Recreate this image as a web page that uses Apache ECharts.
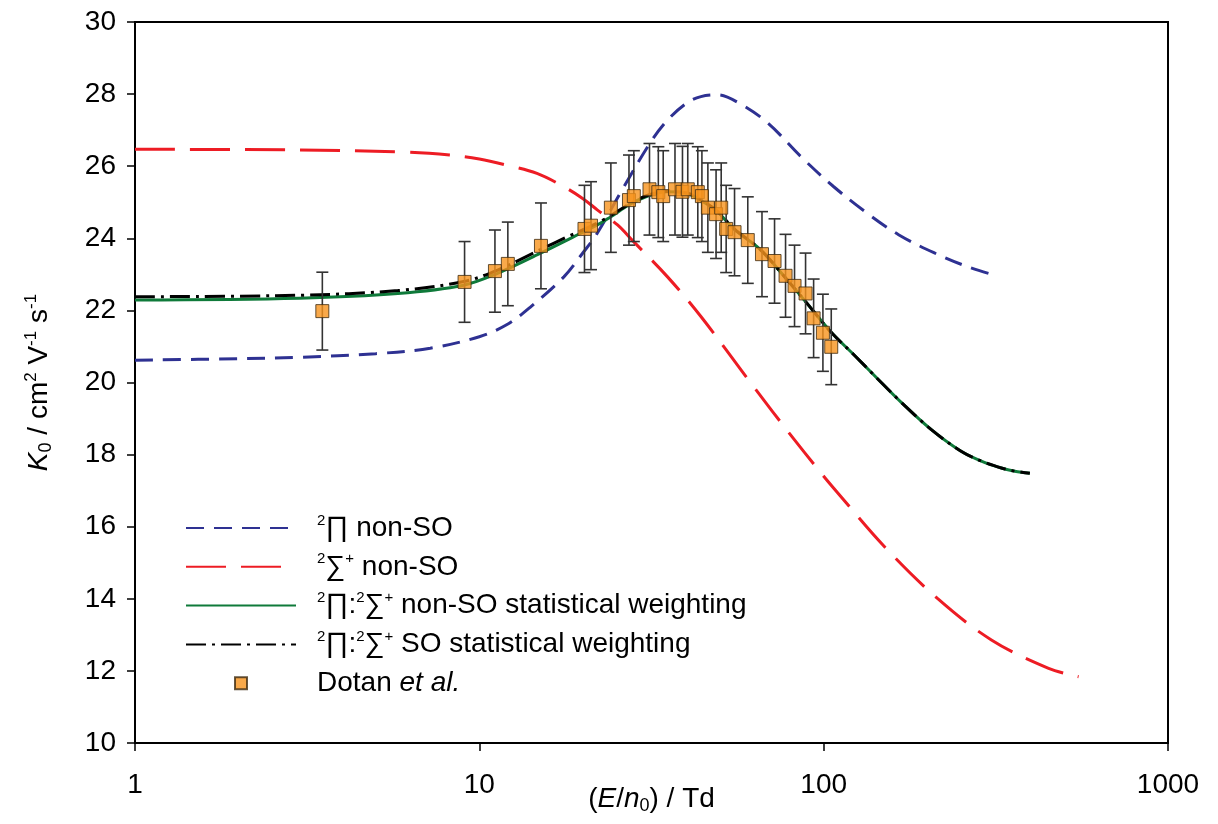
<!DOCTYPE html>
<html>
<head>
<meta charset="utf-8">
<script src="https://cdn.jsdelivr.net/npm/echarts@6/dist/echarts.min.js"></script>
<style>
html,body{margin:0;padding:0;background:#fff;}
#c{width:1218px;height:824px;}
</style>
</head>
<body>
<div id="c"></div>
<script>
// ---- Data ----
const xTicks = [1, 10, 100, 1000];
const yTicks = [10, 12, 14, 16, 18, 20, 22, 24, 26, 28, 30];

// 2Pi non-SO (blue dashed)
const piX = [1, 2, 3, 5, 7.2, 10, 12, 14.1, 17.6, 20, 22, 26, 31.5, 35.2, 40, 44, 49, 57, 69, 86, 107, 134, 165, 209, 262, 313];
const piY = [20.62, 20.66, 20.7, 20.8, 20.95, 21.27, 21.6, 22.1, 22.93, 23.6, 24.14, 25.35, 26.68, 27.28, 27.75, 27.93, 27.98, 27.74, 27.19, 26.26, 25.43, 24.69, 24.1, 23.6, 23.21, 22.98];

// 2Sigma+ non-SO (red long dash)
const sigX = [1, 3, 5.8, 8.2, 10, 12, 14.7, 17.6, 20, 22, 25.2, 28.1, 35.2, 44, 61.5, 82.4, 100, 109.6, 150, 214, 307, 450, 550];
const sigY = [26.47, 26.45, 26.4, 26.31, 26.2, 26.03, 25.8, 25.43, 25.1, 24.79, 24.37, 23.9, 22.93, 21.83, 19.98, 18.4, 17.4, 16.95, 15.45, 14.01, 12.86, 12.07, 11.84];

// 2Pi:2Sigma+ non-SO statistical weighting (green solid)
const nsoX = [1, 3, 5.8, 9, 11.3, 15, 19.7, 22.5, 24.1, 27.5, 31, 35.2, 40, 44, 49, 55, 65.6, 77.5, 87.8, 105, 123, 147, 168, 205, 250, 287, 330, 359, 397];
const nsoY = [22.29, 22.34, 22.47, 22.7, 23.03, 23.58, 24.14, 24.42, 24.6, 24.95, 25.18, 25.29, 25.25, 25.05, 24.75, 24.25, 23.68, 22.9, 22.29, 21.4, 20.75, 20.0, 19.45, 18.7, 18.1, 17.82, 17.62, 17.54, 17.48];

// 2Pi:2Sigma+ SO statistical weighting (black dash-dot)
const soX = [1, 3, 5.8, 9, 11.3, 15, 18, 22.5, 27.5, 31, 35.2, 40, 44, 49, 55, 65.6, 77.5, 87.8, 105, 123, 147, 168, 205, 250, 287, 330, 359, 397];
const soY = [22.38, 22.42, 22.55, 22.8, 23.12, 23.68, 24.04, 24.47, 24.97, 25.2, 25.3, 25.26, 25.07, 24.76, 24.26, 23.68, 22.9, 22.29, 21.4, 20.75, 20.0, 19.45, 18.7, 18.1, 17.82, 17.62, 17.54, 17.48];

// Dotan et al. (experiment)
const expX = [3.5, 9.06, 11.1, 12.1, 15.1, 20.2, 21.1, 24.1, 27.2, 28.1, 31.2, 33.1, 34.2, 37.0, 38.9, 40.3, 43.1, 44.3, 46.1, 48.7, 50.4, 52.1, 55.1, 60.2, 66.2, 72.0, 77.5, 82.3, 88.6, 93.5, 99.5, 105.2];
const expY = [21.98, 22.79, 23.09, 23.29, 23.79, 24.26, 24.35, 24.85, 25.06, 25.17, 25.36, 25.28, 25.17, 25.36, 25.29, 25.36, 25.28, 25.17, 24.85, 24.67, 24.85, 24.26, 24.17, 23.95, 23.56, 23.37, 22.96, 22.68, 22.47, 21.78, 21.38, 20.99];
const expErr = [1.08, 1.12, 1.14, 1.16, 1.19, 1.21, 1.22, 1.24, 1.25, 1.26, 1.27, 1.26, 1.26, 1.27, 1.26, 1.27, 1.26, 1.26, 1.24, 1.23, 1.24, 1.21, 1.21, 1.2, 1.18, 1.17, 1.15, 1.13, 1.12, 1.09, 1.07, 1.05];

const names = ['pi', 'sig', 'nso', 'so', 'exp'];
const labels = {
  pi: '{s|2}∏ non-SO',
  sig: '{s|2}∑{s|+} non-SO',
  nso: '{s|2}∏:{s|2}∑{s|+} non-SO statistical weighting',
  so: '{s|2}∏:{s|2}∑{s|+} SO statistical weighting',
  exp: 'Dotan {i|et al.}'
};

const zip = (a, b) => a.map((v, i) => [v, b[i]]);
const FONT = '"Liberation Sans", Arial, sans-serif';
const FS = 28;

const chart = echarts.init(document.getElementById('c'));
chart.setOption({
  animation: false,
  backgroundColor: '#fff',
  grid: { left: 135, right: 50, top: 22, bottom: 81, show: true, borderColor: '#000', borderWidth: 2, backgroundColor: 'transparent', containLabel: false, outerBoundsMode: 'none' },
  xAxis: {
    type: 'log', logBase: 10, min: xTicks[0], max: xTicks[xTicks.length - 1],
    axisLine: { lineStyle: { color: '#000', width: 2 } },
    axisTick: { show: true, inside: false, length: 8, lineStyle: { color: '#000', width: 1.5 } },
    minorTick: { show: false },
    splitLine: { show: false },
    axisLabel: { color: '#000', fontSize: FS, fontFamily: FONT, margin: 28, formatter: v => String(Math.round(v)) },
    name: '({i|E}/{i|n}{b|0}) / Td',
    nameLocation: 'middle', nameGap: 40, nameMoveOverlap: false,
    nameTextStyle: {
      color: '#000', fontSize: FS, fontFamily: FONT, lineHeight: 32,
      rich: {
        i: { fontStyle: 'italic', fontSize: FS, fontFamily: FONT, color: '#000', lineHeight: 32 },
        b: { fontSize: 18, fontFamily: FONT, color: '#000', verticalAlign: 'bottom', lineHeight: 32 }
      }
    }
  },
  yAxis: {
    type: 'value', min: yTicks[0], max: yTicks[yTicks.length - 1], interval: 2,
    axisLine: { show: true, lineStyle: { color: '#000', width: 2 } },
    axisTick: { show: true, inside: false, length: 8, lineStyle: { color: '#000', width: 1.5 } },
    splitLine: { show: false },
    axisLabel: { color: '#000', fontSize: FS, fontFamily: FONT, margin: 19 },
    name: '{i|K}{b|0} / cm{s|2} V{s|-1} s{s|-1}',
    nameLocation: 'middle', nameGap: 80, nameRotate: 90, nameMoveOverlap: false,
    nameTextStyle: {
      color: '#000', fontSize: FS, fontFamily: FONT, lineHeight: 32,
      rich: {
        i: { fontStyle: 'italic', fontSize: FS, fontFamily: FONT, color: '#000', lineHeight: 32 },
        b: { fontSize: 18, fontFamily: FONT, color: '#000', verticalAlign: 'bottom', lineHeight: 32 },
        s: { fontSize: 17, fontFamily: FONT, color: '#000', verticalAlign: 'top', lineHeight: 32 }
      }
    }
  },
  legend: {
    data: [
      { name: 'pi', itemStyle: { opacity: 0 } },
      { name: 'sig', itemStyle: { opacity: 0 } },
      { name: 'nso', itemStyle: { opacity: 0 } },
      { name: 'so', itemStyle: { opacity: 0 } },
      { name: 'exp', icon: 'path://M0,0L10,0L10,10L0,10Z' }
    ],
    orient: 'vertical', left: 180, top: 508,
    itemWidth: 110, itemHeight: 12, itemGap: 8.8,
    formatter: n => labels[n],
    textStyle: {
      color: '#000', fontSize: FS, fontFamily: FONT, lineHeight: 30, padding: [0, 0, 0, 16],
      rich: {
        s: { fontSize: 15, fontFamily: FONT, color: '#000', verticalAlign: 'top', lineHeight: 30 },
        i: { fontStyle: 'italic', fontSize: FS, fontFamily: FONT, color: '#000', lineHeight: 30 }
      }
    }
  },
  series: [
    {
      name: 'pi', type: 'line', data: zip(piX, piY), smooth: 0.35, symbol: 'none', z: 2,
      lineStyle: { color: '#2e3192', width: 3, type: [18, 10] }, itemStyle: { color: '#2e3192' }
    },
    {
      name: 'sig', type: 'line', data: zip(sigX, sigY), smooth: 0.35, symbol: 'none', z: 2,
      lineStyle: { color: '#ed1c24', width: 3, type: [40, 15] }, itemStyle: { color: '#ed1c24' }
    },
    {
      name: 'nso', type: 'line', data: zip(nsoX, nsoY), smooth: 0.35, symbol: 'none', z: 2,
      lineStyle: { color: '#0f7a3a', width: 3, type: 'solid' }, itemStyle: { color: '#0f7a3a' }
    },
    {
      name: 'so', type: 'line', data: zip(soX, soY), smooth: 0.35, symbol: 'none', z: 3,
      lineStyle: { color: '#000', width: 3, type: [20, 6, 3, 6] }, itemStyle: { color: '#000' }
    },
    {
      name: 'err', type: 'custom', z: 4,
      data: expX.map((v, i) => [v, expY[i], expErr[i]]),
      renderItem: (params, api) => {
        const x = api.value(0), y = api.value(1), e = api.value(2);
        const t = api.coord([x, y + e]);
        const b = api.coord([x, y - e]);
        const w = 6;
        const st = { stroke: '#333', lineWidth: 1.6 };
        return {
          type: 'group',
          children: [
            { type: 'line', shape: { x1: t[0], y1: t[1], x2: b[0], y2: b[1] }, style: st },
            { type: 'line', shape: { x1: t[0] - w, y1: t[1], x2: t[0] + w, y2: t[1] }, style: st },
            { type: 'line', shape: { x1: b[0] - w, y1: b[1], x2: b[0] + w, y2: b[1] }, style: st }
          ]
        };
      }
    },
    {
      name: 'exp', type: 'scatter', data: zip(expX, expY), symbol: 'rect', symbolSize: 13, z: 5,
      itemStyle: { color: '#f7941d', borderColor: '#3d2a10', borderWidth: 1 }
    }
  ]
});
</script>
</body>
</html>
